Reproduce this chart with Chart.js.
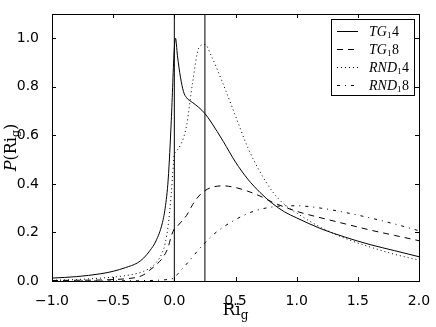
<!DOCTYPE html>
<html>
<head>
<meta charset="utf-8">
<script src="https://cdn.jsdelivr.net/npm/chart.js@4/dist/chart.umd.min.js"></script>
<style>
  html, body { margin: 0; padding: 0; background: #fff; }
  #wrap { width: 436px; height: 327px; }
</style>
</head>
<body>
<div id="wrap"><canvas id="graph" width="436" height="327"></canvas></div>
<script>
// Ri_g の値(横軸)
const RI    = [ -1.0, -0.8, -0.6, -0.5, -0.4, -0.3, -0.25, -0.2, -0.15, -0.1, -0.075, -0.05, -0.025,
                0.0, 0.01, 0.025, 0.05, 0.075, 0.1, 0.15, 0.2, 0.25, 0.3, 0.4, 0.5, 0.6, 0.7, 0.8, 0.9,
                1.0, 1.2, 1.4, 1.6, 1.8, 2.0 ];

// 各系列の P(Ri_g)
const TG14  = [ 0.012, 0.018, 0.030, 0.040, 0.055, 0.075, 0.095, 0.125, 0.165, 0.235, 0.300, 0.420, 0.660,
                0.960, 1.000, 0.930, 0.840, 0.780, 0.755, 0.735, 0.715, 0.690, 0.655, 0.575, 0.490, 0.420, 0.365, 0.320, 0.285,
                0.260, 0.215, 0.180, 0.150, 0.125, 0.100 ];
const TG18  = [ 0.002, 0.003, 0.004, 0.006, 0.009, 0.016, 0.026, 0.045, 0.066, 0.092, 0.112, 0.140, 0.185,
                0.215, 0.220, 0.226, 0.240, 0.255, 0.270, 0.315, 0.350, 0.372, 0.385, 0.392, 0.385, 0.370, 0.350, 0.325, 0.305,
                0.287, 0.260, 0.235, 0.210, 0.188, 0.166 ];
const RND14 = [ 0.003, 0.006, 0.012, 0.016, 0.022, 0.032, 0.040, 0.053, 0.075, 0.115, 0.155, 0.230, 0.360,
                0.520, 0.530, 0.540, 0.560, 0.590, 0.640, 0.820, 0.960, 0.975, 0.930, 0.810, 0.680, 0.550, 0.450, 0.370, 0.315,
                0.280, 0.220, 0.175, 0.140, 0.110, 0.086 ];
const RND18 = [ 0.000, 0.000, 0.000, 0.000, 0.001, 0.001, 0.002, 0.002, 0.003, 0.004, 0.005, 0.007, 0.009,
                0.012, 0.018, 0.027, 0.042, 0.056, 0.070, 0.100, 0.130, 0.157, 0.183, 0.222, 0.253, 0.278, 0.295, 0.305, 0.310,
                0.310, 0.300, 0.282, 0.260, 0.235, 0.207 ];

const LABELS  = [ "TG₁4", "TG₁8", "RND₁4", "RND₁8" ];
const DASHES  = [ [], [6, 5], [1, 3], [3, 5, 1, 5] ];
const VLINES  = [ 0.0, 0.25 ];      // 縦の基準線
const X_TICKS = [ -1.0, -0.5, 0.0, 0.5, 1.0, 1.5, 2.0 ];
const Y_TICKS = [ 0.0, 0.2, 0.4, 0.6, 0.8, 1.0 ];

Chart.defaults.font.family = "'DejaVu Sans', sans-serif";
Chart.defaults.color = "#000";

function pts(ys){ return RI.map((x, i) => ({ x: x, y: ys[i] })); }

const datasets = [ TG14, TG18, RND14, RND18 ].map((ys, i) => ({
    label: LABELS[i],
    data: pts(ys),
    borderColor: "#000",
    borderWidth: 1,
    borderDash: DASHES[i],
    pointRadius: 0,
    fill: false,
    cubicInterpolationMode: "monotone",
}));

for (let v of VLINES){
    datasets.push({
        label: "",
        isRef: true,
        data: [ { x: v, y: 0 }, { x: v, y: 1.1 } ],
        borderColor: "#000",
        borderWidth: 1,
        pointRadius: 0,
        fill: false,
    });
}

function fmt(v){ return Number(v).toFixed(1).replace("-", "\u2212"); }

// 枠・内向きの目盛・軸タイトル・凡例を描く
const decor = {
    id: "decor",
    afterDraw(chart){
        const ctx = chart.ctx;
        const a   = chart.chartArea;
        const sx  = chart.scales.x, sy = chart.scales.y;
        ctx.save();
        ctx.strokeStyle = "#000";
        ctx.lineWidth = 1;
        ctx.setLineDash([]);
        ctx.strokeRect(Math.round(a.left) + 0.5, Math.round(a.top) + 0.5,
                       Math.round(a.right - a.left), Math.round(a.bottom - a.top));

        ctx.beginPath();
        for (let t of sx.ticks){
            const px = Math.round(sx.getPixelForValue(t.value)) + 0.5;
            ctx.moveTo(px, a.bottom); ctx.lineTo(px, a.bottom - 4);
            ctx.moveTo(px, a.top);    ctx.lineTo(px, a.top + 4);
        }
        for (let t of sy.ticks){
            const py = Math.round(sy.getPixelForValue(t.value)) + 0.5;
            ctx.moveTo(a.left, py);  ctx.lineTo(a.left + 4, py);
            ctx.moveTo(a.right, py); ctx.lineTo(a.right - 4, py);
        }
        ctx.stroke();

        // x 軸タイトル Ri_g
        ctx.fillStyle = "#000";
        ctx.textBaseline = "alphabetic";
        ctx.textAlign = "left";
        const big = "17px 'DejaVu Serif', serif", small = "12px 'DejaVu Serif', serif";
        ctx.font = big;   const wRi = ctx.measureText("Ri").width;
        ctx.font = small; const wg  = ctx.measureText("g").width;
        let cx = (a.left + a.right) / 2 - (wRi + wg) / 2;
        ctx.font = big;   ctx.fillText("Ri", cx, 315);
        ctx.font = small; ctx.fillText("g", cx + wRi, 319);

        // y 軸タイトル P(Ri_g)
        const it  = "italic 16px 'DejaVu Serif', serif";
        const mid = "16px 'DejaVu Serif', serif", sub = "11px 'DejaVu Serif', serif";
        ctx.font = it;    const wP = ctx.measureText("P").width;
        ctx.font = mid;   const wA = ctx.measureText("(Ri").width, wB = ctx.measureText(")").width;
        ctx.font = sub;   const wg2 = ctx.measureText("g").width;
        const total = wP + wA + wg2 + wB;
        ctx.translate(16, (a.top + a.bottom) / 2);
        ctx.rotate(-Math.PI / 2);
        let x0 = -total / 2;
        ctx.font = it;    ctx.fillText("P", x0, 0);          x0 += wP;
        ctx.font = mid;   ctx.fillText("(Ri", x0, 0);        x0 += wA;
        ctx.font = sub;   ctx.fillText("g", x0, 3);          x0 += wg2;
        ctx.font = mid;   ctx.fillText(")", x0, 0);
        ctx.setTransform(1, 0, 0, 1, 0, 0);

        // 凡例
        const bx = 331, by = 19, bw = 83, bh = 76;
        ctx.fillStyle = "#fff";
        ctx.fillRect(bx, by, bw, bh);
        ctx.strokeRect(bx + 0.5, by + 0.5, bw, bh);
        const rows = chart.data.datasets.filter(d => !d.isRef);
        rows.forEach((d, i) => {
            const y = by + 11.5 + i * 18.3;
            ctx.beginPath();
            ctx.setLineDash(d.borderDash || []);
            ctx.moveTo(337, Math.round(y) + 0.5); ctx.lineTo(358, Math.round(y) + 0.5);
            ctx.stroke();
            ctx.setLineDash([]);
            const parts = d.label.split("₁");
            ctx.fillStyle = "#000";
            let lx = 369;
            ctx.font = "italic 14px 'Liberation Serif', serif";
            ctx.fillText(parts[0], lx, y + 5); lx += ctx.measureText(parts[0]).width;
            ctx.font = "9px 'Liberation Serif', serif";
            ctx.fillText("1", lx, y + 7); lx += ctx.measureText("1").width + 0.5;
            ctx.font = "14px 'Liberation Serif', serif";
            ctx.fillText(parts[1], lx, y + 5);
        });
        ctx.restore();
    }
};

const ctx = document.getElementById("graph").getContext("2d");
const CHART = new Chart(ctx, {
    type: "line",
    data: { datasets: datasets },
    options: {
        responsive: false,
        devicePixelRatio: 1,
        animation: false,
        layout: { padding: { top: 14, right: 17, left: 0, bottom: 0 } },
        plugins: { legend: { display: false }, tooltip: { enabled: false } },
        scales: {
            x: {
                type: "linear",
                min: -1, max: 2,
                afterBuildTicks: s => { s.ticks = X_TICKS.map(v => ({ value: v })); },
                afterFit: s => { s.height = 46; },
                ticks: { font: { size: 14 }, padding: 4, maxRotation: 0, callback: v => fmt(v) },
                grid: { display: false },
                border: { display: false },
            },
            y: {
                type: "linear",
                min: 0, max: 1.1,
                afterBuildTicks: s => { s.ticks = Y_TICKS.map(v => ({ value: v })); },
                afterFit: s => { s.width = 52; },
                ticks: { font: { size: 14 }, padding: 5, callback: v => fmt(v) },
                grid: { display: false },
                border: { display: false },
            }
        }
    },
    plugins: [ decor ]
});
</script>
</body>
</html>
